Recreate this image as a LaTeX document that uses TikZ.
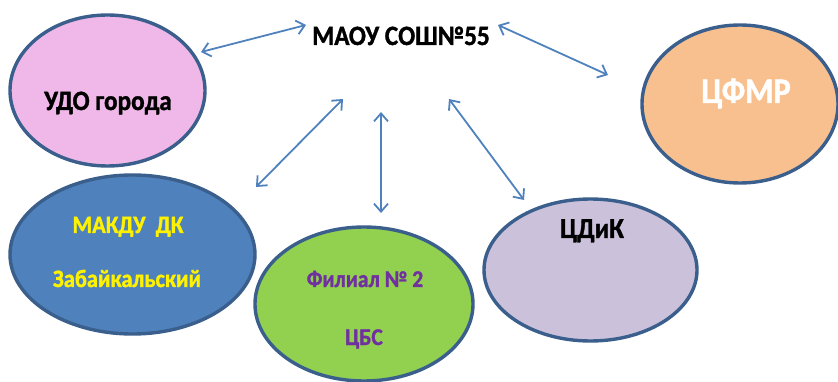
\documentclass[tikz,border=0pt]{standalone}
\usepackage{fontspec}
\setmainfont{Carlito}[FakeStretch=0.9, BoldFeatures={FakeBold=1.2}]
\usetikzlibrary{shapes.geometric,arrows.meta}
\definecolor{edge}{HTML}{3A5F8C}
\definecolor{arrowblue}{HTML}{4F81BD}
\definecolor{pinkfill}{HTML}{F0B8E8}
\definecolor{orangefill}{HTML}{F9C08F}
\definecolor{bluefill}{HTML}{4F81BD}
\definecolor{greenfill}{HTML}{92D050}
\definecolor{lavfill}{HTML}{CCC1DA}
\definecolor{purpletext}{HTML}{7030A0}
\tikzset{
  blob/.style={ellipse, draw=edge, line width=3.4pt, inner sep=0pt},
  lbl/.style={inner sep=0pt, anchor=base},
  link/.style={draw=arrowblue, line width=1.8pt, {Straight Barb[length=8pt,width=14pt]}-{Straight Barb[length=8pt,width=14pt]}}
}
\begin{document}
\begin{tikzpicture}[x=1pt,y=-1pt]
\useasboundingbox (0,0) rectangle (838,382);
% ellipses
\node[blob, fill=pinkfill, minimum width=195pt, minimum height=151pt] (udo) at (107.5,90.5) {};
\node[blob, fill=orangefill, minimum width=196pt, minimum height=158pt] (cfmr) at (740,104) {};
\node[blob, fill=bluefill, minimum width=245pt, minimum height=159pt] (makdu) at (132.5,254.5) {};
\node[blob, fill=greenfill, minimum width=218pt, minimum height=154pt] (filial) at (364,304) {};
\node[blob, fill=lavfill, minimum width=213pt, minimum height=142pt] (cdik) at (590.5,270) {};
% texts
\node[lbl, font=\bfseries\fontsize{28}{30}\selectfont] (maou) at (401,45) {МАОУ СОШ№55};
\node[lbl, font=\bfseries\fontsize{28}{30}\selectfont] (udot) at (108,110) {УДО города};
\node[lbl, font=\bfseries\fontsize{36}{40}\selectfont, text=white] (cfmrt) at (746,103) {ЦФМР};
\node[lbl, font=\bfseries\fontsize{25}{27}\selectfont, text=yellow] (makdu1) at (128,233) {МАКДУ\ \ ДК};
\node[lbl, font=\bfseries\fontsize{25}{27}\selectfont, text=yellow] (makdu2) at (127,287) {Забайкальский};
\node[lbl, font=\bfseries\fontsize{24}{26}\selectfont, text=purpletext] (fil1) at (365,287) {Филиал № 2};
\node[lbl, font=\bfseries\fontsize{24}{26}\selectfont, text=purpletext] (fil2) at (364,345) {ЦБС};
\node[lbl, font=\bfseries\fontsize{29}{30}\selectfont] (cdikt) at (592,238) {ЦДиК};
% connector ends
\coordinate (a1) at (201,52);  \coordinate (b1) at (306,25);
\coordinate (a2) at (498,25);  \coordinate (b2) at (608,75);
\coordinate (a3) at (343,99);  \coordinate (b3) at (256,187);
\coordinate (a4) at (381,112); \coordinate (b4) at (381,213);
\coordinate (a5) at (449,99);  \coordinate (b5) at (524,200);
\draw[link] (a1) -- (b1);
\draw[link] (a2) -- (b2);
\draw[link] (a3) -- (b3);
\draw[link] (a4) -- (b4);
\draw[link] (a5) -- (b5);
\end{tikzpicture}
\end{document}
